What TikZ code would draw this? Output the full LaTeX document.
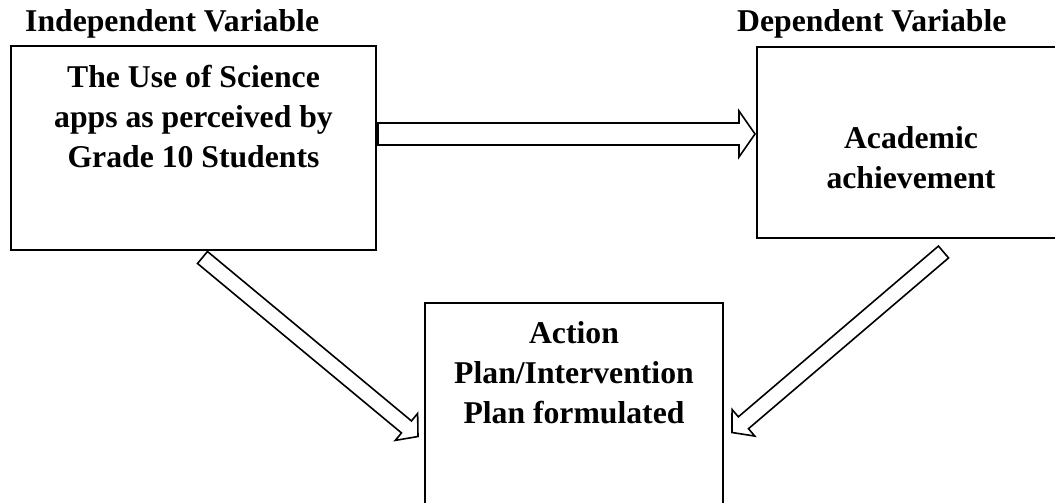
\documentclass[tikz,border=0pt]{standalone}
\usepackage{fontspec}
\setmainfont{Liberation Serif}
\usetikzlibrary{calc,positioning}

\tikzset{
  varbox/.style={draw, line width=1.8pt, anchor=north west, inner sep=0pt, outer sep=0pt},
  boxtext/.style={align=center, anchor=north, inner sep=0pt},
  vartitle/.style={anchor=base west, inner sep=0pt},
  hollow/.style={draw, line width=1.6pt, line join=miter, fill=white}
}

% hollow block arrow: tail, tip, half shaft, half head, head length
\newcommand{\blockarrow}[5]{%
  \coordinate (hb) at ($(#2)!#5pt!(#1)$);
  \draw[hollow] ($(#1)!#3pt!90:(#2)$) -- ($(hb)!#3pt!90:(#2)$) -- ($(hb)!#4pt!90:(#2)$)
    -- (#2) -- ($(hb)!#4pt!-90:(#2)$) -- ($(hb)!#3pt!-90:(#2)$)
    -- ($(#1)!#3pt!-90:(#2)$) -- cycle;
}

\begin{document}
\begin{tikzpicture}[x=1pt, y=-1pt, font=\bfseries\fontsize{31.7}{40}\selectfont]
  \useasboundingbox (0,0) rectangle (1055,503);
  \clip (0,0) rectangle (1055,503);
  % Titles
  \node[vartitle] (ivlab) at (25,32) {Independent Variable};
  \node[vartitle] (dvlab) at (737,32) {Dependent Variable};
  % Boxes
  \node[varbox, minimum width=365pt, minimum height=204pt] (iv) at (11,46) {};
  \node[varbox, minimum width=308pt, minimum height=191pt] (dv) at (757,47) {};
  \node[varbox, minimum width=298pt, minimum height=217pt] (ap) at (425,303) {};
  \node[boxtext] (ivtext) at ([yshift=-18.5pt]iv.north)
    {The Use of Science\\apps as perceived by\\Grade 10 Students};
  \node[boxtext] (dvtext) at ([yshift=-79.5pt]dv.north) {Academic\\achievement};
  \node[boxtext] (aptext) at ([yshift=-18.5pt]ap.north)
    {Action\\Plan/Intervention\\Plan formulated};
  % Arrow ends
  \coordinate (a1) at ([shift={(2,-14)}]iv.east);
  \coordinate (b1) at ([shift={(-2,-8.5)}]dv.west);
  \coordinate (a2) at ([shift={(9,7.5)}]iv.south);
  \coordinate (b2) at ([shift={(-7,25)}]ap.west);
  \coordinate (a3) at ([shift={(32.5,14)}]dv.south);
  \coordinate (b3) at ([shift={(9,21)}]ap.east);
  % Arrows
  \blockarrow{a1}{b1}{11}{23}{16}
  \blockarrow{a2}{b2}{7.8}{17.5}{15}
  \blockarrow{a3}{b3}{7.8}{17.5}{15}
\end{tikzpicture}
\end{document}
